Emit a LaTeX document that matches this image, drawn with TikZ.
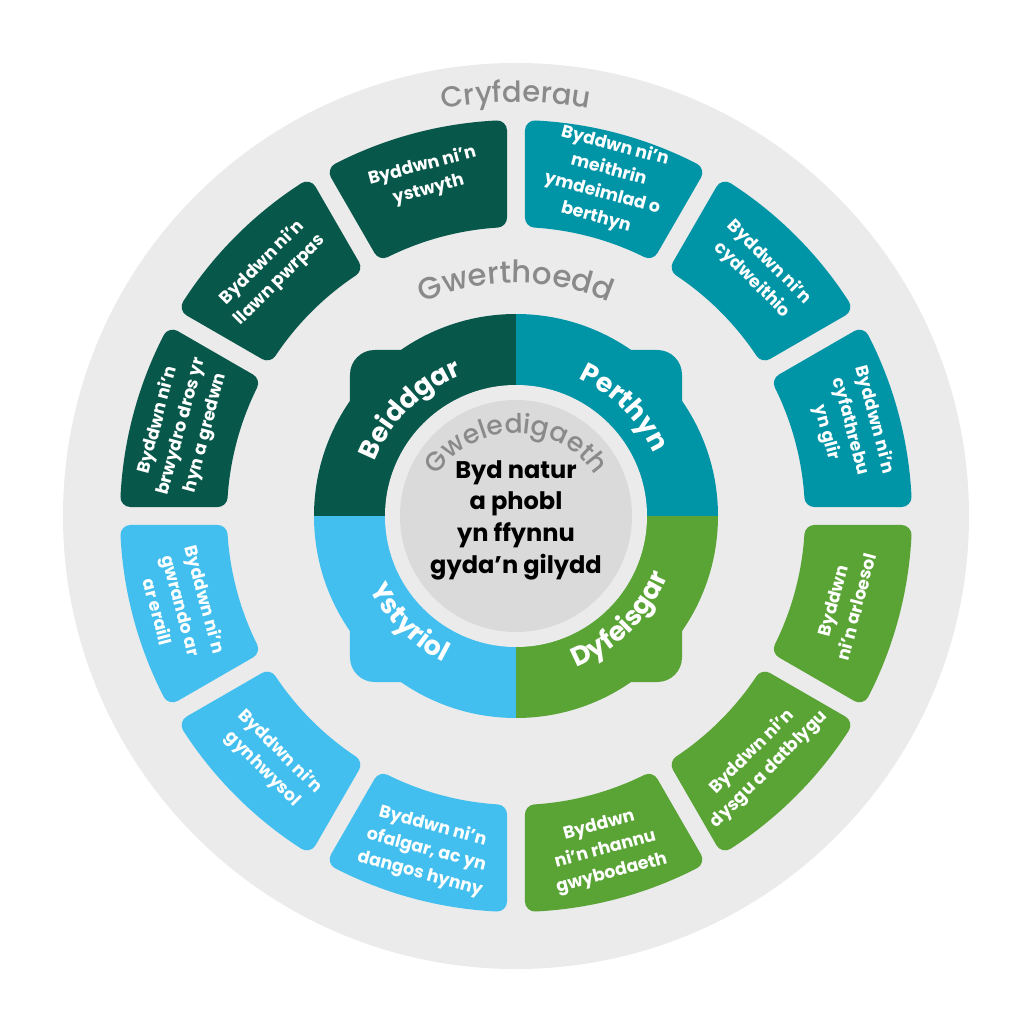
\documentclass[tikz,border=0pt]{standalone}
\usepackage{fontspec}
\setmainfont{Poppins}
\newfontfamily\medfont{Poppins Medium}
\usetikzlibrary{decorations.text}

\definecolor{dkgreen}{HTML}{07574A}
\definecolor{teal}{HTML}{0094A7}
\definecolor{ltblue}{HTML}{42BFEE}
\definecolor{leaf}{HTML}{5AA436}
\definecolor{ringgray}{HTML}{EBEBEB}
\definecolor{coregray}{HTML}{DADADA}
\definecolor{labelgray}{HTML}{8A8A8A}

% one rounded sector of the outer ring: #1 start angle, #2 colour
\newcommand{\strengthseg}[2]{%
  \filldraw[#2, line width=0.4cm, line join=round]
    ({#1+3.64}:299) -- ({#1+2.82}:386)
    arc[start angle={#1+2.82}, end angle={#1+27.18}, radius=386]
    -- ({#1+26.36}:299)
    arc[start angle={#1+26.36}, end angle={#1+3.64}, radius=299] -- cycle;}

\tikzset{
  strength/.style={text=white, align=center, inner sep=0pt,
    font=\bfseries\fontsize{9.9}{14}\selectfont},
  vision/.style={text=black, align=center, inner sep=0pt,
    font=\bfseries\fontsize{13.7}{18}\selectfont},
}

\begin{document}
\begin{tikzpicture}[x=0.02cm, y=0.02cm]

\fill[white] (-516,-515) rectangle (515,516);
\useasboundingbox (-516,-515) rectangle (515,516);

\fill[ringgray] (0,0) circle (453);

% outer ring
\strengthseg{0}{teal}
\strengthseg{30}{teal}
\strengthseg{60}{teal}
\strengthseg{90}{dkgreen}
\strengthseg{120}{dkgreen}
\strengthseg{150}{dkgreen}
\strengthseg{180}{ltblue}
\strengthseg{210}{ltblue}
\strengthseg{240}{ltblue}
\strengthseg{270}{leaf}
\strengthseg{300}{leaf}
\strengthseg{330}{leaf}

\node[strength, rotate=-75] (cyfathrebu) at (15:346) {Byddwn ni’n\\cyfathrebu\\yn glir};
\node[strength, rotate=-45] (cydweithio) at (45:346) {Byddwn ni’n\\cydweithio};
\node[strength, rotate=-15] (meithrin) at (75:346) {Byddwn ni’n\\meithrin\\ymdeimlad o\\berthyn};
\node[strength, rotate=15] (ystwyth) at (105:350) {Byddwn ni’n\\ystwyth};
\node[strength, rotate=45] (pwrpas) at (135:346) {Byddwn ni’n\\llawn pwrpas};
\node[strength, rotate=75] (brwydro) at (165:346) {Byddwn ni’n\\brwydro dros yr\\hyn a gredwn};
\node[strength, rotate=-75] (gwrando) at (195:346) {Byddwn ni’n\\gwrando ar\\ar eraill};
\node[strength, rotate=-45] (gynhwysol) at (225:346) {Byddwn ni’n\\gynhwysol};
\node[strength, rotate=-15] (ofalgar) at (255:346) {Byddwn ni’n\\ofalgar, ac yn\\dangos hynny};
\node[strength, rotate=15] (rhannu) at (285:346) {Byddwn\\ni’n rhannu\\gwybodaeth};
\node[strength, rotate=45] (datblygu) at (315:346) {Byddwn ni’n\\dysgu a datblygu};
\node[strength, rotate=75] (arloesol) at (345:340) {Byddwn\\ni’n arloesol};

% values: four quarters
\begin{scope}
  \clip (0,0) rectangle (-300,300);
  \fill[dkgreen] (0,0) circle (202);
  \fill[dkgreen, rounded corners=14] (-166,-166) rectangle (166,166);
\end{scope}
\begin{scope}
  \clip (0,0) rectangle (300,300);
  \fill[teal] (0,0) circle (202);
  \fill[teal, rounded corners=14] (-166,-166) rectangle (166,166);
\end{scope}
\begin{scope}
  \clip (0,0) rectangle (-300,-300);
  \fill[ltblue] (0,0) circle (202);
  \fill[ltblue, rounded corners=14] (-166,-166) rectangle (166,166);
\end{scope}
\begin{scope}
  \clip (0,0) rectangle (300,-300);
  \fill[leaf] (0,0) circle (202);
  \fill[leaf, rounded corners=14] (-166,-166) rectangle (166,166);
\end{scope}

\fill[ringgray] (0,0) circle (131);
\fill[coregray] (0,0) circle (116);

\path[decorate, decoration={text along path, text align=center, text color=white,
  text={|\bfseries\fontsize{15.2}{16}\selectfont|Beiddgar}}]
  (180:151) arc[start angle=180, end angle=90, radius=151];
\path[decorate, decoration={text along path, text align=center, text color=white,
  text={|\bfseries\fontsize{15.2}{16}\selectfont|Perthyn}}]
  (90:151) arc[start angle=90, end angle=0, radius=151];
\path[decorate, decoration={text along path, text align=center, text color=white,
  text={|\bfseries\fontsize{15.2}{16}\selectfont|Ystyriol}}]
  (180:163) arc[start angle=180, end angle=270, radius=163];
\path[decorate, decoration={text along path, text align=center, text color=white,
  text={|\bfseries\fontsize{15.2}{16}\selectfont|Dyfeisgar}}]
  (270:163) arc[start angle=270, end angle=360, radius=163];

% headings on the grey rings
\path[decorate, decoration={text along path, text align=center, text color=labelgray,
  text={|\medfont\fontsize{16.5}{17}\selectfont|Cryfderau}}]
  (180:414) arc[start angle=180, end angle=0, radius=414];
\path[decorate, decoration={text along path, text align=center, text color=labelgray,
  text={|\medfont\fontsize{17.5}{18}\selectfont|Gwerthoedd}}]
  (180:233) arc[start angle=180, end angle=0, radius=233];
\path[decorate, decoration={text along path, text align=center, text color=labelgray,
  text={|\medfont\fontsize{15.2}{16}\selectfont|Gweledigaeth}}]
  (-95,-12) arc[start angle=180, end angle=0, radius=95];

\node[vision] (vision) at (0,-4) {Byd natur\\a phobl\\yn ffynnu\\gyda’n gilydd};

\end{tikzpicture}
\end{document}
